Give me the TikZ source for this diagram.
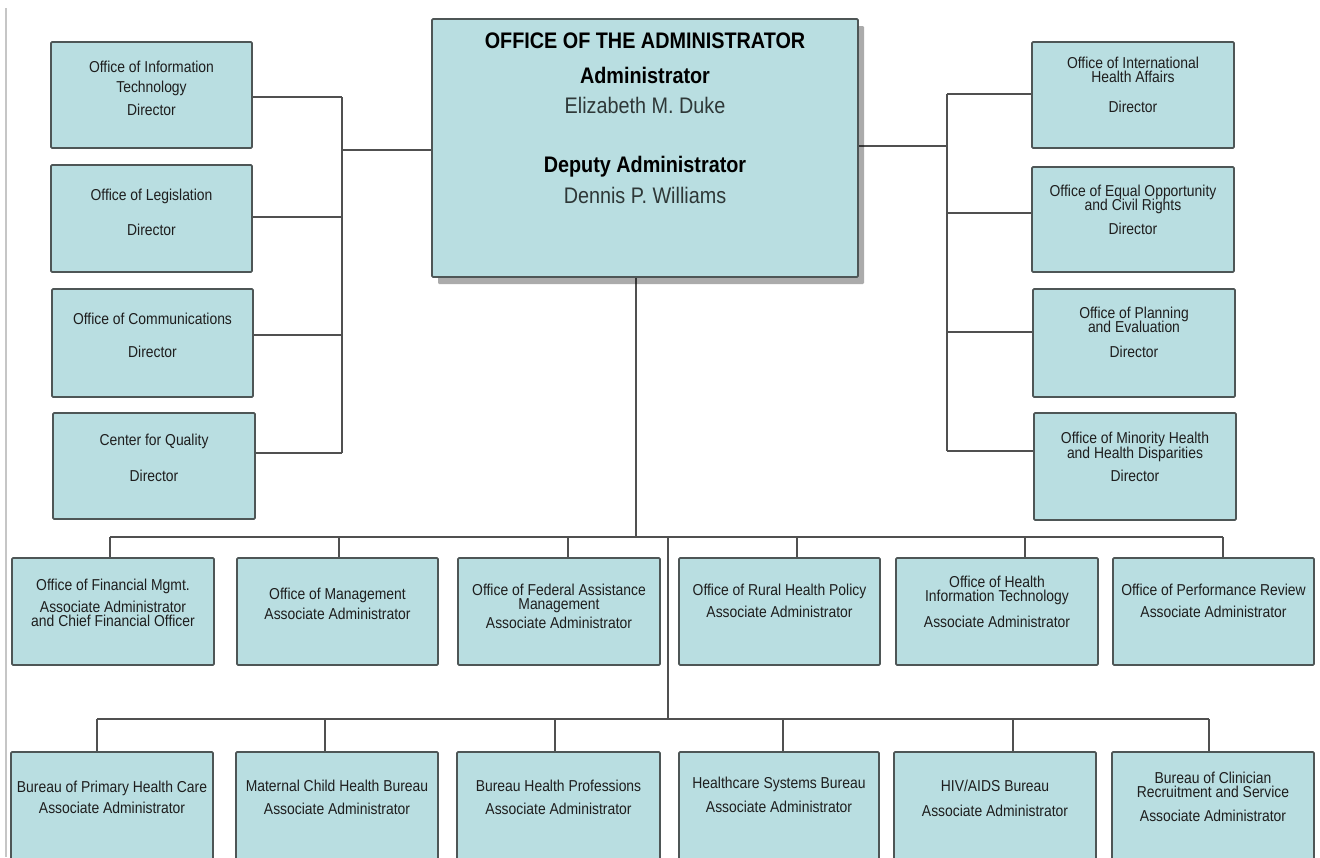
\documentclass[tikz,border=0pt]{standalone}
\usepackage{fontspec}
\setmainfont{Liberation Sans}[FakeStretch=0.88]
\usetikzlibrary{shadows,backgrounds}

\definecolor{boxfill}{HTML}{B9DEE1}
\definecolor{boxline}{HTML}{4E5656}
\definecolor{wirecol}{HTML}{505050}
\definecolor{ink}{HTML}{1E1E1E}
\definecolor{namecol}{HTML}{2E3838}
\definecolor{rulecol}{HTML}{C6C6C6}

\tikzset{
  unit/.style={draw=boxline, line width=1.8pt, fill=boxfill, rounded corners=1.2pt,
               inner sep=0pt, outer sep=0pt},
  wire/.style={draw=wirecol, line width=1.6pt},
  tx/.style={anchor=base, inner sep=0pt, text=ink, font=\fontsize{15.8}{18}\selectfont},
  bigb/.style={anchor=base, inner sep=0pt, text=black, font=\fontsize{22.5}{26}\selectfont\bfseries},
  bign/.style={anchor=base, inner sep=0pt, text=namecol, font=\fontsize{22.5}{26}\selectfont},
}

% box from its corners (x1,y1)-(x2,y2), y measured downwards
\newcommand\orgbox[5]{%
  \node[unit, minimum width={#4-#2}, minimum height={#5-#3}] (#1)
    at ({(#2+#4)/2},{(#3+#5)/2}) {};}
% one line of text, baseline given as distance below the top of its box
\newcommand\boxtext[4]{\node[tx] (#1) at ([yshift=-#3pt]#2.north) {#4};}

\begin{document}
\begin{tikzpicture}[x=1pt, y=-1pt]
\clip (0,0) rectangle (1320,857);
\begin{scope}[on background layer]
  \fill[white] (0,0) rectangle (1320,857);
\end{scope}

% thin rule along the left margin
\coordinate (rtop) at (6,8);
\coordinate (rbot) at (6,857);
\draw[rulecol, line width=2pt] (rtop) -- (rbot);

% ---------- office of the administrator ----------
\node[unit, minimum width=426, minimum height=258,
      drop shadow={shadow xshift=6pt, shadow yshift=-7pt, fill=black, opacity=0.33}]
  (admin) at (645,148) {};
\node[bigb] (adm1) at ([yshift=-29pt]admin.north) {OFFICE OF THE ADMINISTRATOR};
\node[bigb] (adm2) at ([yshift=-64pt]admin.north) {Administrator};
\node[bign] (adm3) at ([yshift=-94pt]admin.north) {Elizabeth M. Duke};
\node[bigb] (adm4) at ([yshift=-153pt]admin.north) {Deputy Administrator};
\node[bign] (adm5) at ([yshift=-184pt]admin.north) {Dennis P. Williams};

% ---------- staff offices, left ----------
\orgbox{it}{51}{42}{252}{148}
\boxtext{it1}{it}{30}{Office of Information}
\boxtext{it2}{it}{50}{Technology}
\boxtext{it3}{it}{73}{Director}

\orgbox{leg}{51}{165}{252}{272}
\boxtext{leg1}{leg}{35}{Office of Legislation}
\boxtext{leg2}{leg}{70}{Director}

\orgbox{com}{52}{289}{253}{397}
\boxtext{com1}{com}{35}{Office of Communications}
\boxtext{com2}{com}{68}{Director}

\orgbox{cq}{53}{413}{255}{519}
\boxtext{cq1}{cq}{32}{Center for Quality}
\boxtext{cq2}{cq}{68}{Director}

% ---------- staff offices, right ----------
\orgbox{iha}{1032}{42}{1234}{148}
\boxtext{iha1}{iha}{26}{Office of International}
\boxtext{iha2}{iha}{40}{Health Affairs}
\boxtext{iha3}{iha}{70}{Director}

\orgbox{eo}{1032}{167}{1234}{272}
\boxtext{eo1}{eo}{29}{Office of Equal Opportunity}
\boxtext{eo2}{eo}{43}{and Civil Rights}
\boxtext{eo3}{eo}{67}{Director}

\orgbox{pe}{1033}{289}{1235}{397}
\boxtext{pe1}{pe}{29}{Office of Planning}
\boxtext{pe2}{pe}{43}{and Evaluation}
\boxtext{pe3}{pe}{68}{Director}

\orgbox{mh}{1034}{413}{1236}{520}
\boxtext{mh1}{mh}{30}{Office of Minority Health}
\boxtext{mh2}{mh}{45}{and Health Disparities}
\boxtext{mh3}{mh}{68}{Director}

% ---------- associate administrators ----------
\orgbox{fm}{12}{558}{214}{665}
\boxtext{fm1}{fm}{32}{Office of Financial Mgmt.}
\boxtext{fm2}{fm}{54}{Associate Administrator}
\boxtext{fm3}{fm}{68}{and Chief Financial Officer}

\orgbox{om}{237}{558}{438}{665}
\boxtext{om1}{om}{41}{Office of Management}
\boxtext{om2}{om}{61}{Associate Administrator}

\orgbox{fa}{458}{558}{660}{665}
\boxtext{fa1}{fa}{37}{Office of Federal Assistance}
\boxtext{fa2}{fa}{51}{Management}
\boxtext{fa3}{fa}{70}{Associate Administrator}

\orgbox{rh}{679}{558}{880}{665}
\boxtext{rh1}{rh}{37}{Office of Rural Health Policy}
\boxtext{rh2}{rh}{59}{Associate Administrator}

\orgbox{hit}{896}{558}{1098}{665}
\boxtext{hit1}{hit}{29}{Office of Health}
\boxtext{hit2}{hit}{43}{Information Technology}
\boxtext{hit3}{hit}{69}{Associate Administrator}

\orgbox{pr}{1113}{558}{1314}{665}
\boxtext{pr1}{pr}{37}{Office of Performance Review}
\boxtext{pr2}{pr}{59}{Associate Administrator}

% ---------- bureaus ----------
\orgbox{phc}{11}{752}{213}{860}
\boxtext{phc1}{phc}{40}{Bureau of Primary Health Care}
\boxtext{phc2}{phc}{61}{Associate Administrator}

\orgbox{mch}{236}{752}{438}{860}
\boxtext{mch1}{mch}{39}{Maternal Child Health Bureau}
\boxtext{mch2}{mch}{62}{Associate Administrator}

\orgbox{bhp}{457}{752}{660}{860}
\boxtext{bhp1}{bhp}{39}{Bureau Health Professions}
\boxtext{bhp2}{bhp}{62}{Associate Administrator}

\orgbox{hsb}{679}{752}{879}{860}
\boxtext{hsb1}{hsb}{36}{Healthcare Systems Bureau}
\boxtext{hsb2}{hsb}{60}{Associate Administrator}

\orgbox{hab}{894}{752}{1096}{860}
\boxtext{hab1}{hab}{39}{HIV/AIDS Bureau}
\boxtext{hab2}{hab}{64}{Associate Administrator}

\orgbox{bcr}{1112}{752}{1314}{860}
\boxtext{bcr1}{bcr}{31}{Bureau of Clinician}
\boxtext{bcr2}{bcr}{45}{Recruitment and Service}
\boxtext{bcr3}{bcr}{69}{Associate Administrator}

% ---------- connectors ----------
\begin{scope}[on background layer]
  % left staff trunk
  \coordinate (lv1) at (342,97);
  \coordinate (lv2) at (342,217);
  \coordinate (lv3) at (342,335);
  \coordinate (lv4) at (342,453);
  \coordinate (lvm) at (342,150);
  \draw[wire] (lv1) -- (lv4);
  \draw[wire] (lv1) -- (lv1 -| it.east);
  \draw[wire] (lv2) -- (lv2 -| leg.east);
  \draw[wire] (lv3) -- (lv3 -| com.east);
  \draw[wire] (lv4) -- (lv4 -| cq.east);
  \draw[wire] (lvm) -- (lvm -| admin.west);

  % right staff trunk
  \coordinate (rv1) at (947,94);
  \coordinate (rv2) at (947,213);
  \coordinate (rv3) at (947,332);
  \coordinate (rv4) at (947,451);
  \coordinate (rvm) at (947,146);
  \draw[wire] (rv1) -- (rv4);
  \draw[wire] (rv1) -- (rv1 -| iha.west);
  \draw[wire] (rv2) -- (rv2 -| eo.west);
  \draw[wire] (rv3) -- (rv3 -| pe.west);
  \draw[wire] (rv4) -- (rv4 -| mh.west);
  \draw[wire] (rvm) -- (rvm -| admin.east);

  % main stem to the first bus
  \coordinate (stem) at (636,537);
  \draw[wire] (stem |- admin.south) -- (stem);

  % first bus and its drops
  \coordinate (ba) at (110,537);
  \coordinate (bb) at (339,537);
  \coordinate (bc) at (568,537);
  \coordinate (bd) at (797,537);
  \coordinate (be) at (1025,537);
  \coordinate (bf) at (1223,537);
  \draw[wire] (ba) -- (bf);
  \draw[wire] (ba) -- (ba |- fm.north);
  \draw[wire] (bb) -- (bb |- om.north);
  \draw[wire] (bc) -- (bc |- fa.north);
  \draw[wire] (bd) -- (bd |- rh.north);
  \draw[wire] (be) -- (be |- hit.north);
  \draw[wire] (bf) -- (bf |- pr.north);

  % spine down to the second bus
  \coordinate (sp1) at (668,537);
  \coordinate (sp2) at (668,719);
  \draw[wire] (sp1) -- (sp2);

  % second bus and its drops
  \coordinate (ca) at (97,719);
  \coordinate (cb) at (325,719);
  \coordinate (cc) at (555,719);
  \coordinate (cd) at (783,719);
  \coordinate (ce) at (1013,719);
  \coordinate (cf) at (1209,719);
  \draw[wire] (ca) -- (cf);
  \draw[wire] (ca) -- (ca |- phc.north);
  \draw[wire] (cb) -- (cb |- mch.north);
  \draw[wire] (cc) -- (cc |- bhp.north);
  \draw[wire] (cd) -- (cd |- hsb.north);
  \draw[wire] (ce) -- (ce |- hab.north);
  \draw[wire] (cf) -- (cf |- bcr.north);
\end{scope}
\end{tikzpicture}
\end{document}
